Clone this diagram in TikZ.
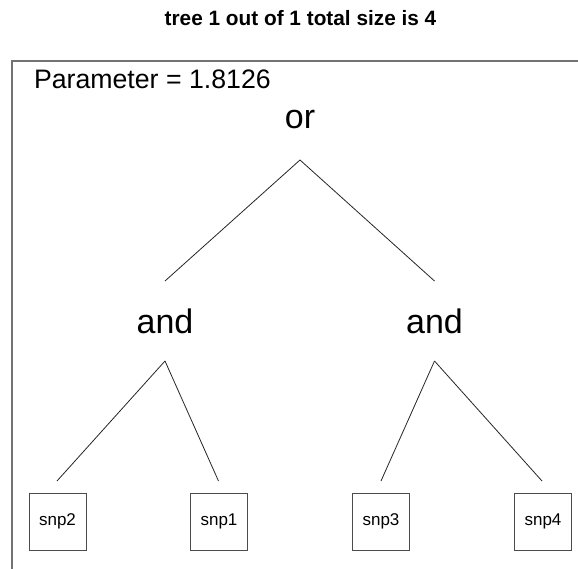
\documentclass[tikz,border=0pt]{standalone}
\usepackage{fontspec}
\setmainfont{Liberation Sans}
\begin{document}
\begin{tikzpicture}[x=1pt,y=-1pt,
  txt/.style={inner sep=0pt,outer sep=0pt},
  opnode/.style={inner sep=0pt,outer sep=0pt,minimum height=80pt,font=\fontsize{34}{40}\selectfont},
  leaf/.style={draw=black!70,line width=0.9pt,minimum size=57pt,inner sep=0pt,outer sep=0pt,font=\fontsize{17}{20}\selectfont},
  edge/.style={draw=black!85,line width=0.8pt}]
\useasboundingbox (0,0) rectangle (578,569);
\clip (0,0) rectangle (578,569);
\fill[white] (0,0) rectangle (578,569);
% frame
\draw[black!55,line width=1.2pt] (12,61) rectangle (600,600);
% title
\node[txt,anchor=base,font=\bfseries\fontsize{20.8}{24}\selectfont] (title) at (300.5,26) {tree 1 out of 1 total size is 4};
\node[txt,anchor=base west,font=\fontsize{26.7}{30}\selectfont] (param) at (34,89) {Parameter = 1.8126};
% operators
\node[opnode] (or) at (300,120) {or};
\node[opnode] (andL) at (165,321) {and};
\node[opnode] (andR) at (434.5,321) {and};
% leaves
\node[leaf] (snp2) at (57.5,521.5) {snp2};
\node[leaf] (snp1) at (219,521.5) {snp1};
\node[leaf] (snp3) at (381,521.5) {snp3};
\node[leaf] (snp4) at (543,521.5) {snp4};
% free ends of the leaf connectors
\coordinate (e2) at (57,481);
\coordinate (e1) at (218.5,481);
\coordinate (e3) at (381,481);
\coordinate (e4) at (542,481);
% edges
\draw[edge] (or.south) -- (andL.north);
\draw[edge] (or.south) -- (andR.north);
\draw[edge] (andL.south) -- (e2);
\draw[edge] (andL.south) -- (e1);
\draw[edge] (andR.south) -- (e3);
\draw[edge] (andR.south) -- (e4);
\end{tikzpicture}
\end{document}
